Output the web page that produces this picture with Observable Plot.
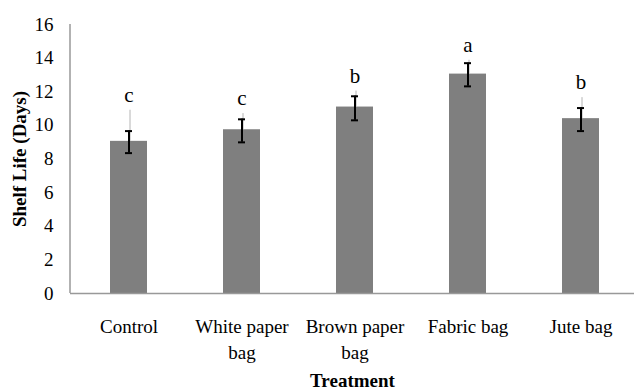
<!DOCTYPE html>
<html>
<head>
<meta charset="utf-8">
<script src="https://cdn.jsdelivr.net/npm/d3@7"></script>
<script src="https://cdn.jsdelivr.net/npm/@observablehq/plot@0.6"></script>
<style>
  body { margin: 0; background: #fff; }
  #chart svg, #chart svg text { font-family: "Liberation Serif", "Times New Roman", serif !important; }
  #chart g[aria-label="x-axis label"] text, #chart g[aria-label="y-axis label"] text { font-weight: bold; }
</style>
</head>
<body>
<div id="chart"></div>
<script>
const categories = ["Control", "White paper bag", "Brown paper bag", "Fabric bag", "Jute bag"];
const tickLabels = ["Control", "White paper\nbag", "Brown paper\nbag", "Fabric bag", "Jute bag"];
const means = [9.05, 9.74, 11.09, 13.05, 10.4];
const errLow = [8.35, 8.99, 10.3, 12.32, 9.66];
const errHigh = [9.66, 10.36, 11.73, 13.7, 11.03];
const greyTop = [10.9, 10.7, 12.04, 13.87, 11.65];
const letters = ["c", "c", "b", "a", "b"];
const yTicks = [0, 2, 4, 6, 8, 10, 12, 14, 16];

const data = categories.map((c, i) => ({
  cat: c, mean: means[i], lo: errLow[i], hi: errHigh[i], top: greyTop[i], letter: letters[i]
}));

const W = 634, H = 392;
const chart = Plot.plot({
  width: W, height: H,
  marginLeft: 70, marginRight: 0, marginTop: 24, marginBottom: 99,
  style: {fontSize: "19px", color: "#000", background: "#fff"},
  x: {domain: categories, range: [70, 638], paddingInner: 0.675, paddingOuter: 0.3375, label: null},
  y: {domain: [0, 16], label: null},
  marks: [
    Plot.barY(data, {x: "cat", y: "mean", fill: "#7f7f7f"}),
    Plot.ruleX(data, {x: "cat", y1: "mean", y2: "top", stroke: "#b4b4b4", strokeWidth: 1, dx: 1}),
    Plot.ruleX(data, {x: "cat", y1: "lo", y2: "hi", stroke: "#000", strokeWidth: 2}),
    Plot.tickY(data, {x: "cat", y: "lo", stroke: "#000", strokeWidth: 2, insetLeft: 15, insetRight: 15}),
    Plot.tickY(data, {x: "cat", y: "hi", stroke: "#000", strokeWidth: 2, insetLeft: 15, insetRight: 15}),
    Plot.text(data, {x: "cat", y: "top", text: "letter", dy: -15, fontSize: 21, fill: "#000"}),
    Plot.ruleY([0], {stroke: "#999", strokeWidth: 1.5}),
    Plot.axisY(yTicks, {tickSize: 0, tickPadding: 17, fontSize: 19, label: "Shelf Life (Days)", labelAnchor: "center", labelOffset: 58, labelArrow: false}),
    Plot.axisX({tickSize: 0, tickPadding: 21, fontSize: 19, lineHeight: 1.38, tickFormat: (d) => tickLabels[categories.indexOf(d)], label: "Treatment", labelAnchor: "center", labelOffset: 93, labelArrow: false})
  ]
});

document.getElementById("chart").appendChild(chart);

// vertical axis line along the left edge of the x range, spanning the y domain
const xs = chart.scale("x"), ys = chart.scale("y");
const ySc = d3.scaleLinear().domain(ys.domain).range(ys.range);
d3.select(chart).append("line")
  .attr("x1", xs.range[0]).attr("x2", xs.range[0])
  .attr("y1", ySc(ys.domain[0])).attr("y2", ySc(ys.domain[1]))
  .attr("stroke", "#999").attr("stroke-width", 1.5);
</script>
</body>
</html>
